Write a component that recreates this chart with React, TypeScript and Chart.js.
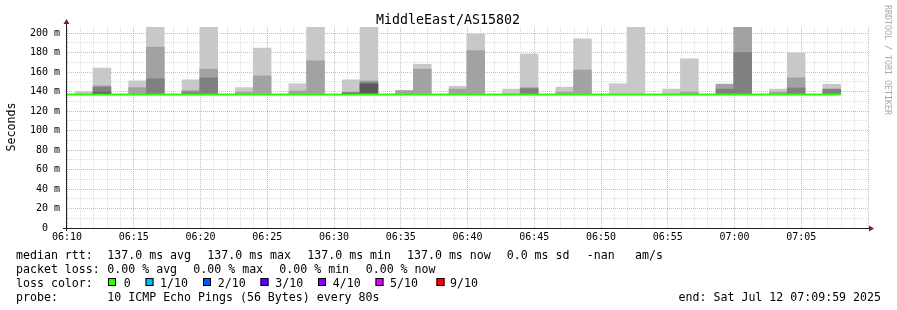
import React, { useEffect, useRef } from "react";
import { Chart, registerables } from "chart.js";

Chart.register(...registerables);

// ---------- chart text ----------
const TITLE = "MiddleEast/AS15802";
const Y_AXIS_TITLE = "Seconds";
const WATERMARK = "RRDTOOL / TOBI OETIKER";
const END_TEXT = "end: Sat Jul 12 07:09:59 2025";

// ---------- time axis ----------
const START_MINUTE_OF_DAY = 6 * 60 + 10; // 06:10
const SPAN_SECONDS = 3600;
const STEP_SECONDS = 80;
const FIRST_STEP_START = 37; // seconds after 06:10 where the first full step starts
const Y_MAX = 206.2;

// ---------- data (ms) ----------
// lowest ping of each 80 s step (smoke base)
const PING_MIN = 137.0;
// outer smoke spread (lightest grey) top, per step; null = no visible smoke
const smokeOuterTop = [
  140, 164, null, 151, 210, null, 152, 210, null, 144, 184.5, null, 148, 210, null,
  152, 210, null, 141, 168, null, 145.5, 199, null, 142.5, 178.5, null, 144.5, 194, null,
  148, 210, null, 142.5, 173.5, null, 147.5, 210, null, 142.5, 179.5, null, 147.5,
];
// second smoke band (medium grey) top
const smokeMidTop = [
  null, 146, null, 144, 185.5, null, 141, 163, null, 139.5, 156, null, 140.5, 171.5, null,
  139.5, 151, null, 141, 163, null, 142.5, 182, null, null, 144, null, 139.5, 162, null,
  null, null, null, null, 139.5, null, 147.5, 210, null, 139.5, 154, null, null,
];
// third smoke band (dark grey) top
const smokeInnerTop = [
  null, 144.5, null, null, 153, null, 139.5, 154, null, null, null, null, null, null, null,
  null, 149.5, null, null, null, null, null, null, null, null, 143, null, null, null, null,
  null, null, null, null, null, null, 142.5, 180, null, null, 143.7, null, 142.5,
];
// core smoke band (darkest grey) top
const smokeCoreTop = [
  null, 139, null, null, null, null, null, null, null, null, null, null, null, null, null,
  138.5, 147.7, null, null, null, null, null, null, null, null, null, null, null, null, null,
  null, null, null, null, null, null, null, null, null, null, null, null, null,
];
// median rtt per step (first entry is the partial step before the first full one)
const medianRtt = [
  137.0, 137.0, 137.0, 137.0, 137.0, 137.0, 137.0, 137.0, 137.0, 137.0, 137.0,
  137.0, 137.0, 137.0, 137.0, 137.0, 137.0, 137.0, 137.0, 137.0, 137.0, 137.0,
  137.0, 137.0, 137.0, 137.0, 137.0, 137.0, 137.0, 137.0, 137.0, 137.0, 137.0,
  137.0, 137.0, 137.0, 137.0, 137.0, 137.0, 137.0, 137.0, 137.0, 137.0, 137.0,
];

// ---------- legend ----------
const legendRtt = ["median rtt:", "137.0 ms avg", "137.0 ms max", "137.0 ms min", "137.0 ms now", "0.0 ms sd", "-nan", "am/s"];
const legendLoss = ["packet loss:", "0.00 % avg", "0.00 % max", "0.00 % min", "0.00 % now"];
const lossLabels = ["0", "1/10", "2/10", "3/10", "4/10", "5/10", "9/10"];
const lossColors = ["#26ff00", "#00b8ff", "#0059ff", "#5e00ff", "#7e00ff", "#dd00ff", "#ff0000"];
const probeText = ["probe:", "10 ICMP Echo Pings (56 Bytes) every 80s"];

// layout positions of legend pieces (px)
const RTT_X = [16, 107.3, 207.3, 307.3, 407, 506.7, 586.7, 635];
const LOSS_X = [16, 107.3, 193.3, 279.3, 365.7];
const BOX_X = [108, 145.5, 203, 260.5, 318, 375.5, 436.5];
const BOX_LABEL_X = [123.7, 160, 217.7, 275.3, 332.7, 390, 450];

const MONO = '"DejaVu Sans Mono", monospace';
const MAJOR_GRID = "rgba(255,0,0,0.35)";
const MINOR_GRID = "rgba(120,120,120,0.25)";

function fmtTime(sec: number): string {
  const m = START_MINUTE_OF_DAY + Math.round(sec / 60);
  const hh = Math.floor(m / 60) % 24;
  const mm = m % 60;
  return String(hh).padStart(2, "0") + ":" + String(mm).padStart(2, "0");
}

const stepCenters = smokeOuterTop.map((_, k) => FIRST_STEP_START + STEP_SECONDS * k + STEP_SECONDS / 2);

function smokeData(tops: (number | null)[]) {
  return tops.map((t, k) => ({ x: stepCenters[k], y: t == null ? null : [PING_MIN, t] }));
}

function medianData() {
  const pts = medianRtt.map((v, i) => ({ x: Math.max(0, FIRST_STEP_START + (i - 1) * STEP_SECONDS), y: v }));
  pts.push({ x: FIRST_STEP_START + (medianRtt.length - 1) * STEP_SECONDS, y: medianRtt[medianRtt.length - 1] });
  return pts;
}

const decorPlugin = {
  id: "decor",
  afterDraw(chart: any) {
    const ctx = chart.ctx as CanvasRenderingContext2D;
    const { left, right, top, bottom } = chart.chartArea;
    ctx.save();
    // axes
    ctx.strokeStyle = "#222";
    ctx.lineWidth = 1;
    ctx.beginPath();
    ctx.moveTo(left - 4, bottom + 0.5);
    ctx.lineTo(right + 1, bottom + 0.5);
    ctx.moveTo(left - 0.5, bottom + 3);
    ctx.lineTo(left - 0.5, top - 3);
    ctx.stroke();
    // arrows
    ctx.fillStyle = "#7f1f1f";
    ctx.beginPath();
    ctx.moveTo(right + 6, bottom + 0.5);
    ctx.lineTo(right + 1, bottom - 2.5);
    ctx.lineTo(right + 1, bottom + 3.5);
    ctx.closePath();
    ctx.fill();
    ctx.beginPath();
    ctx.moveTo(left - 0.5, top - 8);
    ctx.lineTo(left - 3.5, top - 3);
    ctx.lineTo(left + 2.5, top - 3);
    ctx.closePath();
    ctx.fill();

    // title
    ctx.fillStyle = "#000";
    ctx.font = `13.3px ${MONO}`;
    ctx.textAlign = "center";
    ctx.textBaseline = "alphabetic";
    ctx.fillText(TITLE, 448, 24);

    // y axis title
    ctx.save();
    ctx.translate(12, 127);
    ctx.rotate(-Math.PI / 2);
    ctx.font = `11.6px ${MONO}`;
    ctx.textAlign = "center";
    ctx.textBaseline = "middle";
    ctx.fillText(Y_AXIS_TITLE, 0, 0);
    ctx.restore();

    // watermark
    ctx.save();
    ctx.translate(885, 5);
    ctx.rotate(Math.PI / 2);
    ctx.font = `8.3px ${MONO}`;
    ctx.fillStyle = "#aaaaaa";
    ctx.textAlign = "left";
    ctx.textBaseline = "alphabetic";
    ctx.fillText(WATERMARK, 0, 0);
    ctx.restore();

    // legend
    ctx.font = `11.6px ${MONO}`;
    ctx.textAlign = "left";
    ctx.textBaseline = "alphabetic";
    ctx.fillStyle = "#000";
    const b1 = 258.5, b2 = 272.5, b3 = 286.5, b4 = 300.5;
    legendRtt.forEach((t, i) => ctx.fillText(t, RTT_X[i], b1));
    legendLoss.forEach((t, i) => ctx.fillText(t, LOSS_X[i], b2));
    ctx.fillText("loss color:", 16, b3);
    lossLabels.forEach((t, i) => {
      ctx.fillStyle = lossColors[i];
      ctx.fillRect(BOX_X[i], 278, 8, 8);
      ctx.strokeStyle = "#000";
      ctx.strokeRect(BOX_X[i] + 0.5, 278.5, 7, 7);
      ctx.fillStyle = "#000";
      ctx.fillText(t, BOX_LABEL_X[i], b3);
    });
    ctx.fillText(probeText[0], 16, b4);
    ctx.fillText(probeText[1], 107.3, b4);
    ctx.textAlign = "right";
    ctx.fillText(END_TEXT, 881, b4);
    ctx.restore();
  },
};

const barCommon = {
  type: "bar" as const,
  stack: "smoke",
  barThickness: "flex" as const,
  barPercentage: 1,
  categoryPercentage: 1,
  borderWidth: 0,
  borderSkipped: false,
};

export default function App() {
  const ref = useRef<HTMLCanvasElement | null>(null);
  useEffect(() => {
    if (!ref.current) return;
    const chart = new Chart(ref.current, {
      type: "bar",
      data: {
        datasets: [
          {
            type: "line",
            data: medianData(),
            borderColor: "#26ff00",
            borderWidth: 2,
            pointRadius: 0,
            stepped: "after",
            order: 0,
          } as any,
          { ...barCommon, data: smokeData(smokeCoreTop), backgroundColor: "#5a5a5a", order: 1 } as any,
          { ...barCommon, data: smokeData(smokeInnerTop), backgroundColor: "#808080", order: 2 } as any,
          { ...barCommon, data: smokeData(smokeMidTop), backgroundColor: "#a2a2a2", order: 3 } as any,
          { ...barCommon, data: smokeData(smokeOuterTop), backgroundColor: "#c8c8c8", order: 4 } as any,
        ],
      },
      options: {
        animation: false,
        responsive: false,
        events: [],
        layout: { padding: { left: 0, top: 27, right: 29, bottom: 0 } },
        plugins: { legend: { display: false }, tooltip: { enabled: false }, title: { display: false } },
        scales: {
          x: {
            type: "linear",
            min: 0,
            max: SPAN_SECONDS,
            offset: false,
            z: 1,
            afterFit: (s: any) => { s.height = 82; },
            grid: {
              offset: false,
              drawTicks: false,
              lineWidth: 1,
              color: (c: any) => (c.tick && c.tick.value % 300 === 0 ? MAJOR_GRID : MINOR_GRID),
            },
            border: { display: false, dash: [1, 1] },
            ticks: {
              stepSize: 60,
              autoSkip: false,
              includeBounds: false,
              maxRotation: 0,
              minRotation: 0,
              padding: 3,
              color: "#000",
              font: { family: MONO, size: 10 },
              callback: (v: any) => {
                const n = Number(v);
                return n % 300 === 0 && n < SPAN_SECONDS ? fmtTime(n) : "";
              },
            },
          },
          y: {
            type: "linear",
            min: 0,
            max: Y_MAX,
            stacked: false,
            z: 1,
            afterFit: (s: any) => { s.width = 67; },
            grid: {
              drawTicks: false,
              lineWidth: 1,
              color: (c: any) => (c.tick && c.tick.value % 20 === 0 ? MAJOR_GRID : MINOR_GRID),
            },
            border: { display: false, dash: [1, 1] },
            ticks: {
              stepSize: 10,
              includeBounds: false,
              autoSkip: false,
              padding: 7,
              color: "#000",
              font: { family: MONO, size: 10 },
              callback: (v: any) => {
                const n = Number(v);
                if (n % 20 !== 0) return "";
                return n === 0 ? "0  " : `${n} m`;
              },
            },
          },
        },
      } as any,
      plugins: [decorPlugin],
    });
    return () => chart.destroy();
  }, []);
  return (
    <div style={{ position: "absolute", left: 0, top: 0, width: 897, height: 310, background: "#fff" }}>
      <canvas ref={ref} width={897} height={310} style={{ display: "block" }} />
    </div>
  );
}
